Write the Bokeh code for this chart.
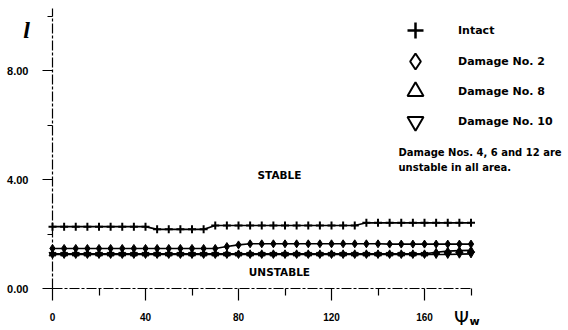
from bokeh.plotting import figure
from bokeh.models import FixedTicker, Range1d, Legend, LegendItem, Label, ColumnDataSource
from bokeh.embed import file_html
from bokeh.resources import INLINE

# ---- data ----
psi_w = [0, 5, 10, 15, 20, 25, 30, 35, 40, 45, 50, 55, 60, 65, 70, 75, 80, 85, 90,
         95, 100, 105, 110, 115, 120, 125, 130, 135, 140, 145, 150, 155, 160, 165,
         170, 175, 180]
intact = [2.27, 2.27, 2.27, 2.27, 2.27, 2.27, 2.27, 2.27, 2.27,
          2.17, 2.17, 2.17, 2.17, 2.17,
          2.31, 2.31, 2.31, 2.31, 2.31, 2.31, 2.31, 2.31, 2.31, 2.31, 2.31, 2.31, 2.31,
          2.41, 2.41, 2.41, 2.41, 2.41, 2.41, 2.41, 2.41, 2.41, 2.41]
damage_2 = [1.47, 1.47, 1.47, 1.47, 1.47, 1.47, 1.47, 1.47, 1.47, 1.47, 1.47, 1.47,
            1.47, 1.47, 1.47, 1.54, 1.60,
            1.64, 1.64, 1.64, 1.64, 1.64, 1.64, 1.64, 1.64, 1.64, 1.64, 1.64, 1.64,
            1.63, 1.63, 1.63, 1.63, 1.63, 1.63, 1.63, 1.63]
damage_8 = [1.27, 1.27, 1.27, 1.27, 1.27, 1.27, 1.27, 1.27, 1.27, 1.27, 1.27, 1.27,
            1.27, 1.27, 1.27, 1.27, 1.27, 1.27, 1.27, 1.27, 1.27, 1.27, 1.27, 1.27,
            1.27, 1.27, 1.27, 1.27, 1.27, 1.27, 1.27, 1.27, 1.27,
            1.33, 1.37, 1.39, 1.40]
damage_10 = [1.25, 1.25, 1.25, 1.25, 1.25, 1.25, 1.25, 1.25, 1.25, 1.25, 1.25, 1.25,
             1.25, 1.25, 1.25, 1.25, 1.25, 1.25, 1.25, 1.25, 1.25, 1.25, 1.25, 1.25,
             1.25, 1.25, 1.25, 1.25, 1.25, 1.25, 1.25, 1.25, 1.25, 1.25, 1.25, 1.26,
             1.27]

x_ticks = [0, 40, 80, 120, 160]
x_minor_ticks = [20, 60, 100, 140, 180]
y_ticks = [0, 4, 8]
y_tick_labels = ["0.00", "4.00", "8.00"]
y_minor_ticks = [2, 6, 10]

legend_labels = ["Intact", "Damage No. 2", "Damage No. 8", "Damage No. 10"]
legend_markers = ["cross", "diamond", "triangle", "inverted_triangle"]
note_lines = ["Damage Nos. 4, 6 and 12 are", "unstable in all area."]
region_labels = ["STABLE", "UNSTABLE"]
y_symbol = "l"
x_symbol = "\u03a8"
x_symbol_sub = "w"

# ---- figure: frame covers the whole canvas, axes sit at fixed data locations ----
W, H = 568, 330
X0_PX, Y0_PX = 52, 288          # where the axes cross
PX_PER_X, PX_PER_Y = 2.325, 27.25
x_range = Range1d(-X0_PX / PX_PER_X, (W - X0_PX) / PX_PER_X)
y_range = Range1d(-(H - Y0_PX) / PX_PER_Y, Y0_PX / PX_PER_Y)

p = figure(width=W, height=H, x_range=x_range, y_range=y_range,
           output_backend="svg", toolbar_location=None,
           min_border_left=0, min_border_right=0, min_border_top=0, min_border_bottom=0)
p.outline_line_color = None
p.grid.visible = False
p.background_fill_color = "white"
p.border_fill_color = "white"

TICK_FONT = "Liberation Sans"
for ax in (p.xaxis[0], p.yaxis[0]):
    ax.fixed_location = 0
    ax.axis_line_color = "black"
    ax.axis_line_width = 1.2
    ax.axis_line_dash = "10 2 3 2"
    ax.major_tick_line_color = "black"
    ax.minor_tick_line_color = "black"
    ax.major_tick_line_width = 1.2
    ax.minor_tick_line_width = 1.2
    ax.major_tick_in = 0
    ax.minor_tick_in = 0
    ax.major_label_text_font = TICK_FONT
    ax.major_label_text_font_style = "bold"
    ax.major_label_text_color = "black"

p.xaxis.ticker = FixedTicker(ticks=x_ticks, minor_ticks=x_minor_ticks)
p.xaxis.bounds = (0, 180)
p.xaxis.major_tick_out = 12
p.xaxis.minor_tick_out = 7
p.xaxis.major_label_standoff = 12
p.xaxis.major_label_text_font_size = "10px"

p.yaxis.ticker = FixedTicker(ticks=y_ticks, minor_ticks=y_minor_ticks)
p.yaxis.major_label_overrides = {t: s for t, s in zip(y_ticks, y_tick_labels)}
p.yaxis.bounds = (0, 10.28)
p.yaxis.major_tick_out = 10
p.yaxis.minor_tick_out = 5
p.yaxis.major_label_standoff = 14
p.yaxis.major_label_text_font_size = "11px"

# ---- series ----
src = ColumnDataSource(dict(x=psi_w, intact=intact, d2=damage_2, d8=damage_8, d10=damage_10))
p.line("x", "intact", source=src, line_color="black", line_width=1.6)
p.scatter("x", "intact", source=src, marker="cross", size=8, line_color="black", line_width=2)
p.line("x", "d2", source=src, line_color="black", line_width=1.6)
p.scatter("x", "d2", source=src, marker="diamond", size=8, line_color="black", fill_color="black")
p.line("x", "d8", source=src, line_color="black", line_width=1.6)
p.scatter("x", "d8", source=src, marker="triangle", size=7, line_color="black", fill_color="black")
p.line("x", "d10", source=src, line_color="black", line_width=1.6)
p.scatter("x", "d10", source=src, marker="inverted_triangle", size=7, line_color="black", fill_color="black")

# ---- legend (open, large keys); key renderers hold one NaN point so nothing is plotted ----
nan = float("nan")
legend_centres = [30, 61, 91, 121]   # px from top of the chart
for lab, mk, c in zip(legend_labels, legend_markers, legend_centres):
    r = p.scatter(x=[nan], y=[nan], marker=mk, size=16, line_color="black",
                  line_width=2.5 if mk == "cross" else 2, fill_color=None)
    lg = Legend(items=[LegendItem(label=lab, renderers=[r])], location=(395, H - (c + 20)),
                padding=0, margin=0, spacing=0, glyph_width=40, glyph_height=40,
                label_standoff=23, border_line_color=None, background_fill_alpha=0,
                label_text_font="DejaVu Sans", label_text_font_style="bold",
                label_text_font_size="11px", label_text_color="black")
    p.add_layout(lg)

# ---- text annotations ----
def txt(x, y, t, size, font="DejaVu Sans", style="bold", align="left", baseline="middle"):
    p.add_layout(Label(x=x, y=y, text=t, text_font=font, text_font_style=style,
                       text_font_size=size, text_align=align, text_baseline=baseline,
                       text_color="black"))

txt(97.6, 4.15, region_labels[0], "10.5px", align="center")
txt(97.6, 0.59, region_labels[1], "10.5px", align="center")
txt(148.8, 4.99, note_lines[0], "10px")
txt(148.8, 4.44, note_lines[1], "10px")
txt(-11.2, 9.50, y_symbol, "24px", font="Liberation Serif", style="bold italic", align="center")
txt(175.9, -1.10, x_symbol, "19px", font="DejaVu Sans", style="normal", align="center")
txt(179.4, -1.20, x_symbol_sub, "11px", font="DejaVu Sans", style="bold")

open("out.html", "w").write(file_html(p, INLINE))
